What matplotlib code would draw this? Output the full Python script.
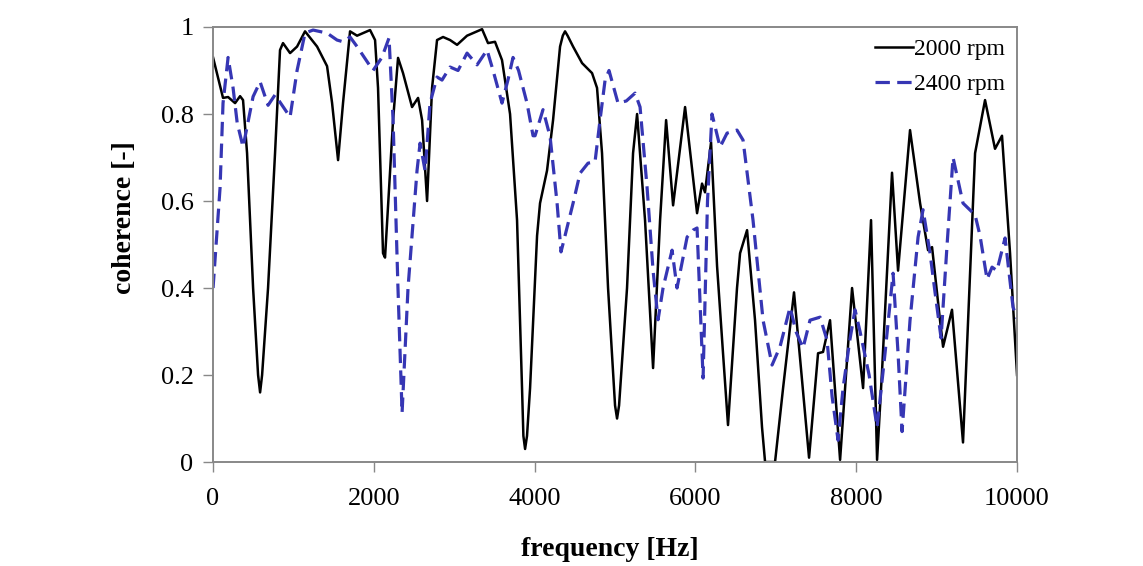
import matplotlib
matplotlib.use("Agg")
import matplotlib.pyplot as plt

plt.rcParams['font.family'] = ['Liberation Serif', 'DejaVu Serif']

# 2000 rpm
f_2000 = [0, 124, 187, 274, 336, 373, 423, 498, 560, 585, 610, 684, 771,
          833, 870, 958, 1045, 1144, 1294, 1418, 1480, 1555, 1617, 1704,
          1791, 1953, 2015, 2052, 2114, 2139, 2239, 2301, 2363, 2475, 2550,
          2600, 2662, 2724, 2786, 2861, 2948, 3035, 3159, 3346, 3420, 3507,
          3594, 3694, 3781, 3843, 3860, 3881, 3905, 3943, 4030, 4067, 4154,
          4229, 4316, 4350, 4378, 4410, 4478, 4590, 4714, 4776, 4838, 4913,
          5000, 5025, 5050, 5149, 5224, 5274, 5373, 5473, 5560, 5635, 5722,
          5871, 6020, 6082, 6119, 6194, 6269, 6343, 6405, 6517, 6555, 6642,
          6741, 6828, 6866, 6990, 7090, 7226, 7320, 7413, 7525, 7587, 7674,
          7799, 7948, 8085, 8184, 8259, 8321, 8445, 8520, 8669, 8794, 8893,
          8943, 9042, 9080, 9191, 9328, 9478, 9602, 9726, 9813, 9913, 10000]
c_2000 = [0.93, 0.837, 0.839, 0.825, 0.841, 0.832, 0.71, 0.40, 0.20, 0.16,
          0.20, 0.40, 0.71, 0.947, 0.963, 0.94, 0.955, 0.99, 0.955, 0.91,
          0.826, 0.694, 0.826, 0.99, 0.98, 0.993, 0.97, 0.86, 0.48, 0.47,
          0.786, 0.929, 0.894, 0.816, 0.837, 0.786, 0.60, 0.86, 0.97, 0.977,
          0.97, 0.959, 0.98, 0.995, 0.963, 0.966, 0.924, 0.80, 0.556, 0.17,
          0.06, 0.03, 0.06, 0.17, 0.52, 0.595, 0.67, 0.786, 0.955, 0.98,
          0.99, 0.98, 0.955, 0.917, 0.894, 0.86, 0.71, 0.40, 0.13, 0.10,
          0.13, 0.40, 0.71, 0.80, 0.556, 0.216, 0.556, 0.786, 0.59, 0.816,
          0.572, 0.64, 0.62, 0.735, 0.45, 0.25, 0.085, 0.40, 0.48, 0.533,
          0.326, 0.08, 0.0, 0.0, 0.17, 0.39, 0.20, 0.01, 0.25, 0.253, 0.326,
          0.005, 0.40, 0.17, 0.556, 0.005, 0.21, 0.665, 0.44, 0.763, 0.595,
          0.487, 0.494, 0.326, 0.265, 0.35, 0.045, 0.71, 0.832, 0.72, 0.75,
          0.48, 0.20]

# 2400 rpm
f_2400 = [0, 87, 124, 187, 249, 300, 373, 498, 585, 684, 771, 958, 1045,
          1144, 1244, 1418, 1542, 1617, 1704, 1791, 1990, 2100, 2189, 2239,
          2300, 2351, 2425, 2537, 2575, 2637, 2699, 2786, 2848, 2948, 3047,
          3159, 3284, 3408, 3483, 3594, 3670, 3731, 3800, 3905, 3980, 4005,
          4104, 4192, 4279, 4328, 4478, 4565, 4664, 4751, 4813, 4876, 4925,
          5037, 5140, 5249, 5311, 5398, 5473, 5535, 5597, 5709, 5771, 5896,
          5970, 6020, 6095, 6150, 6206, 6306, 6393, 6517, 6592, 6716, 6841,
          6953, 7052, 7177, 7250, 7338, 7425, 7550, 7637, 7700, 7774, 7836,
          7920, 7985, 8047, 8160, 8259, 8358, 8458, 8520, 8570, 8669, 8769,
          8831, 8918, 8980, 9055, 9130, 9204, 9328, 9478, 9540, 9627, 9689,
          9750, 9851, 9950, 10000]
c_2400 = [0.40, 0.63, 0.825, 0.93, 0.86, 0.78, 0.724, 0.84, 0.874, 0.82,
          0.844, 0.793, 0.90, 0.986, 0.993, 0.986, 0.97, 0.966, 0.977, 0.955,
          0.90, 0.93, 0.975, 0.786, 0.40, 0.113, 0.40, 0.67, 0.733, 0.67,
          0.825, 0.885, 0.878, 0.908, 0.90, 0.94, 0.913, 0.947, 0.90, 0.825,
          0.88, 0.93, 0.90, 0.825, 0.75, 0.75, 0.81, 0.748, 0.595, 0.483,
          0.595, 0.664, 0.687, 0.69, 0.786, 0.878, 0.90, 0.825, 0.83, 0.848,
          0.816, 0.632, 0.44, 0.327, 0.40, 0.487, 0.40, 0.517, 0.533, 0.538,
          0.193, 0.60, 0.80, 0.724, 0.756, 0.763, 0.74, 0.556, 0.326, 0.223,
          0.265, 0.356, 0.30, 0.262, 0.326, 0.333, 0.28, 0.15, 0.05, 0.17,
          0.28, 0.35, 0.30, 0.20, 0.08, 0.25, 0.434, 0.25, 0.07, 0.326,
          0.517, 0.58, 0.48, 0.39, 0.285, 0.50, 0.70, 0.595, 0.568, 0.52,
          0.42, 0.448, 0.44, 0.515, 0.356, 0.33]

x_ticks = [0, 2000, 4000, 6000, 8000, 10000]
y_ticks = [0, 0.2, 0.4, 0.6, 0.8, 1]
y_tick_labels = ['0', '0.2', '0.4', '0.6', '0.8', '1']

fig = plt.figure(figsize=(11.43, 5.66), dpi=100)
ax = fig.add_axes([0.1864, 0.1837, 0.7034, 0.7686])

ax.plot(f_2000, c_2000, color='black', lw=1.8, label='2000 rpm')
ax.plot(f_2400, c_2400, color='#3636b4', lw=2.3, ls=(0, (4.5, 2.3)),
        label='2400 rpm')

ax.set_xlim(0, 10000)
ax.set_ylim(0, 1)
ax.set_xticks(x_ticks)
ax.set_yticks(y_ticks)
ax.set_yticklabels(y_tick_labels)
ax.tick_params(direction='out', length=7, width=1, color='#888888',
               labelsize=19)
ax.tick_params(axis='x', pad=12)
ax.tick_params(axis='y', pad=7)
for s in ax.spines.values():
    s.set_color('#888888')
    s.set_linewidth(1.4)

ax.set_xlabel('frequency [Hz]', fontsize=20, fontweight='bold')
ax.set_ylabel('coherence [-]', fontsize=20, fontweight='bold')
ax.xaxis.set_label_coords(0.494, -0.172)
ax.yaxis.set_label_coords(-0.095, 0.561)

ax.legend(loc='upper right', frameon=False, fontsize=17, handlelength=1.6,
          handletextpad=0.05, borderaxespad=0.2, borderpad=0.3,
          labelspacing=0.55)

plt.savefig('out.png', dpi=100)
